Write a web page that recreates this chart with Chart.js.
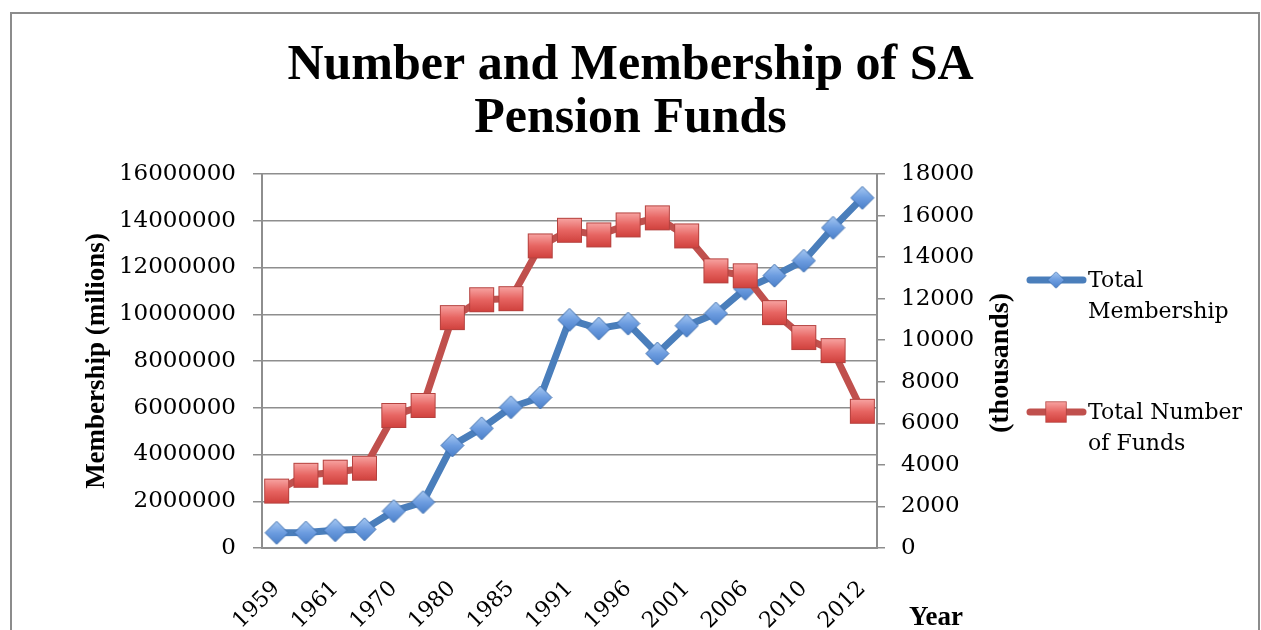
<!DOCTYPE html>
<html>
<head>
<meta charset="utf-8">
<title>Number and Membership of SA Pension Funds</title>
<script src="https://cdn.jsdelivr.net/npm/chart.js@4.4.1/dist/chart.umd.min.js"></script>
<style>
  html, body { margin: 0; padding: 0; background: #fff; }
  #wrap { position: relative; width: 1261px; height: 630px; overflow: hidden; }
  #frame { position: absolute; left: 10px; top: 12px; width: 1246px; height: 700px;
           border: 2px solid #8c8c8c; pointer-events: none; }
  canvas { position: absolute; left: 0; top: 0; }
</style>
</head>
<body>
<div id="wrap">
  <canvas id="chart" width="1261" height="630"></canvas>
  <div id="frame"></div>
</div>
<script>
// ---------- data ----------
const YEARS = ['1959', '1960', '1961', '1965', '1970', '1975', '1980', '1983', '1985', '1988',
               '1991', '1994', '1996', '1999', '2001', '2004', '2006', '2008', '2010', '2011', '2012'];
const MEMBERSHIP = [650000, 660000, 760000, 800000, 1580000, 1960000, 4390000, 5120000, 6020000, 6440000,
                    9760000, 9390000, 9600000, 8320000, 9510000, 10030000, 11090000, 11650000, 12290000, 13700000, 14980000];
const FUNDS = [2740, 3500, 3650, 3840, 6380, 6860, 11090, 11950, 12000, 14540,
               15290, 15070, 15550, 15890, 15020, 13340, 13100, 11330, 10130, 9500, 6580];

const SERIES_NAMES = ['Total Membership', 'Total Number of Funds'];
const LEGEND_LINES = [['Total', 'Membership'], ['Total Number', 'of Funds']];
const TITLE_LINES = ['Number and Membership of SA', 'Pension Funds'];
const LEFT_TITLE = 'Membership (milions)';
const RIGHT_TITLE = '(thousands)';
const X_TITLE = 'Year';

// ---------- styles ----------
const BLUE = '#4a7ebb';
const RED = '#c0504d';
const GRID = '#8e8e8e';
const SERIF = "'DejaVu Serif', serif";
const TIMES = "'Liberation Serif', serif";

// 渐变的点标记，画在小画布上
function squareMarker() {
  const c = document.createElement('canvas');
  c.width = 27; c.height = 27;
  const g = c.getContext('2d');
  const grad = g.createLinearGradient(0, 1, 0, 26);
  grad.addColorStop(0, '#f8a6a4');
  grad.addColorStop(0.5, '#e76562');
  grad.addColorStop(1, '#cf403c');
  g.fillStyle = grad;
  g.fillRect(1, 1, 25, 25);
  g.strokeStyle = '#b5423f';
  g.lineWidth = 1;
  g.strokeRect(1.5, 1.5, 24, 24);
  return c;
}
function diamondMarker() {
  const c = document.createElement('canvas');
  c.width = 25; c.height = 25;
  const g = c.getContext('2d');
  const grad = g.createLinearGradient(0, 1, 0, 24);
  grad.addColorStop(0, '#a6c8f2');
  grad.addColorStop(0.5, '#6d9de0');
  grad.addColorStop(1, '#4a7fc9');
  g.beginPath();
  g.moveTo(12.5, 1); g.lineTo(24, 12.5); g.lineTo(12.5, 24); g.lineTo(1, 12.5); g.closePath();
  g.fillStyle = grad;
  g.fill();
  g.strokeStyle = '#3d6eae';
  g.lineWidth = 1;
  g.stroke();
  return c;
}
const DIAMOND = diamondMarker();
const SQUARE = squareMarker();

// ---------- 额外文字：右轴标题、Year、图例 ----------
const extras = {
  id: 'extras',
  afterDraw(chart) {
    const { ctx, chartArea } = chart;
    ctx.save();
    ctx.fillStyle = '#000';

    // right axis title, reads bottom to top like the left one
    ctx.font = `bold 28px ${TIMES}`;
    ctx.textAlign = 'center';
    ctx.textBaseline = 'middle';
    ctx.save();
    ctx.translate(chartArea.right + 124, (chartArea.top + chartArea.bottom) / 2 + 2);
    ctx.rotate(-Math.PI / 2);
    ctx.fillText(RIGHT_TITLE, 0, 0);
    ctx.restore();

    // x axis title, bottom right
    ctx.font = `bold 27px ${TIMES}`;
    ctx.textBaseline = 'alphabetic';
    ctx.fillText(X_TITLE, chartArea.right + 59, chartArea.bottom + 77);

    // legend
    const rows = [
      { color: BLUE, img: DIAMOND, y: chartArea.top + 106 },
      { color: RED, img: SQUARE, y: chartArea.top + 238 },
    ];
    const x0 = chartArea.right + 150;
    rows.forEach((r, i) => {
      ctx.strokeStyle = r.color;
      ctx.lineWidth = 7;
      ctx.lineCap = 'round';
      ctx.beginPath();
      ctx.moveTo(x0 + 3, r.y);
      ctx.lineTo(x0 + 56, r.y);
      ctx.stroke();
      const s = i === 0 ? 0.72 : 0.85;
      const w = r.img.width * s, h = r.img.height * s;
      ctx.drawImage(r.img, x0 + 29 - w / 2, r.y - h / 2, w, h);
      ctx.font = `22px ${SERIF}`;
      ctx.textAlign = 'left';
      ctx.textBaseline = 'middle';
      LEGEND_LINES[i].forEach((t, k) => ctx.fillText(t, x0 + 61, r.y + 1 + k * 31));
    });
    ctx.restore();
  }
};

new Chart(document.getElementById('chart'), {
  type: 'line',
  data: {
    labels: YEARS,
    datasets: [
      {
        label: SERIES_NAMES[0],
        data: MEMBERSHIP,
        yAxisID: 'y',
        borderColor: BLUE,
        borderWidth: 7,
        pointStyle: DIAMOND,
        pointRadius: 12,
        tension: 0,
        order: 1,
      },
      {
        label: SERIES_NAMES[1],
        data: FUNDS,
        yAxisID: 'y1',
        borderColor: RED,
        borderWidth: 7,
        pointStyle: SQUARE,
        pointRadius: 13,
        tension: 0,
        order: 0,
      },
    ],
  },
  options: {
    responsive: false,
    animation: false,
    layout: { padding: { left: 0, right: 0, top: 0, bottom: 0 } },
    plugins: {
      legend: { display: false },
      tooltip: { enabled: false },
      title: {
        display: true,
        text: TITLE_LINES,
        color: '#000',
        font: { family: TIMES, size: 50, weight: 'bold', lineHeight: 1.05 },
        padding: { top: 40, bottom: 29 },
      },
    },
    scales: {
      x: {
        offset: true,
        grid: { display: false, drawTicks: false },
        border: { display: true, color: GRID, width: 2 },
        ticks: {
          autoSkip: false,
          maxRotation: 45,
          minRotation: 45,
          padding: 28,
          color: '#000',
          font: { family: SERIF, size: 22 },
          callback: function (v, i) { return i % 2 === 0 ? this.getLabelForValue(v) : ''; },
        },
        afterFit: (s) => { s.height = 82; },
      },
      y: {
        position: 'left',
        min: 0,
        max: 16000000,
        ticks: {
          stepSize: 2000000,
          padding: 17,
          color: '#000',
          font: { family: SERIF, size: 23 },
          callback: (v) => String(v),
        },
        grid: { color: GRID, lineWidth: 1.5, tickLength: 9 },
        border: { display: true, color: GRID, width: 2 },
        title: {
          display: true,
          text: LEFT_TITLE,
          color: '#000',
          font: { family: TIMES, size: 27, weight: 'bold' },
          padding: { top: 81, bottom: 0 },
        },
        afterFit: (s) => { s.width = 262; },
      },
      y1: {
        position: 'right',
        min: 0,
        max: 18000,
        ticks: {
          stepSize: 2000,
          padding: 16,
          color: '#000',
          font: { family: SERIF, size: 23 },
          callback: (v) => String(v),
        },
        grid: { drawOnChartArea: false, color: GRID, lineWidth: 1.5, tickLength: 8 },
        border: { display: true, color: GRID, width: 2 },
        afterFit: (s) => { s.width = 384; },
      },
    },
  },
  plugins: [extras],
});
</script>
</body>
</html>
